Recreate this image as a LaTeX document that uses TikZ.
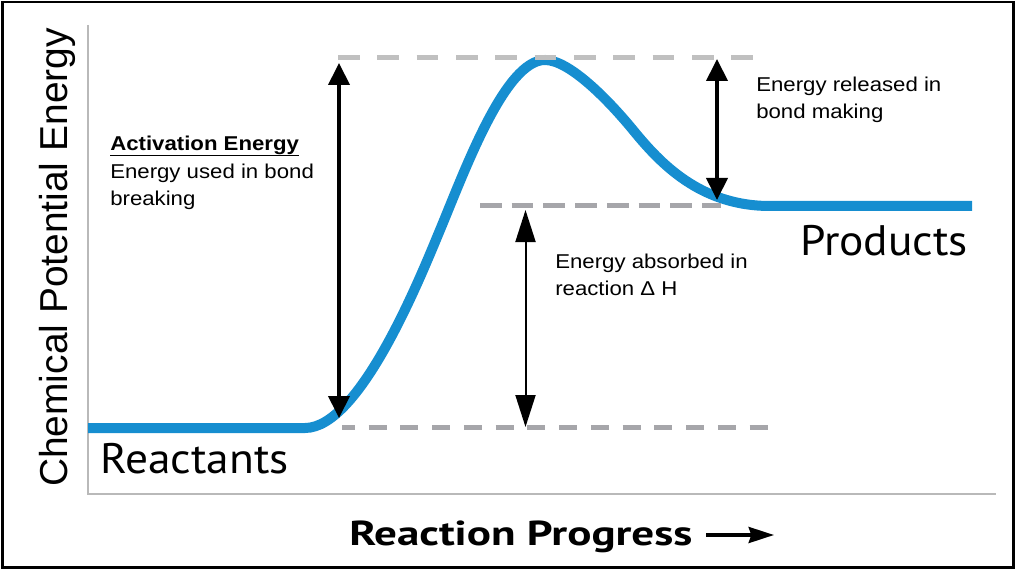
\documentclass[tikz,border=0pt]{standalone}
\usepackage{fontspec}
\usetikzlibrary{arrows.meta}
\newfontfamily\labfont[FakeStretch=1.11]{Liberation Sans}
\newfontfamily\axfont{Liberation Sans}
\newfontfamily\bigfont[FakeStretch=1.065]{PT Sans}
\newfontfamily\progfont[FakeStretch=1.3]{PT Sans}
\definecolor{curveblue}{RGB}{22,142,208}
\definecolor{axisgray}{RGB}{185,185,185}
\definecolor{dashlight}{RGB}{192,192,192}
\definecolor{dashdark}{RGB}{166,166,170}
\begin{document}
\begin{tikzpicture}[x=0.75pt,y=-0.75pt,
  lab/.style={anchor=base west,inner sep=0pt,font=\labfont\fontsize{15pt}{20pt}\selectfont},
  labbold/.style={lab,font=\labfont\bfseries\fontsize{15pt}{20pt}\selectfont},
  big/.style={anchor=base west,inner sep=0pt,font=\bigfont\fontsize{32pt}{38pt}\selectfont},
  level/.style={line width=3.6pt},
  energyarrow/.style={line width=3pt,{Triangle[width=15.75pt,length=16.5pt]}-{Triangle[width=15.75pt,length=16.5pt]}},
  thinarrow/.style={line width=1.5pt,{Triangle[width=15pt,length=24pt]}-{Triangle[width=15pt,length=24pt]}}
]
\useasboundingbox (0,0) rectangle (1016,570);
% frame
\draw[line width=1.9pt] (2.5,2) rectangle (1013.5,567.5);
% axes
\draw[axisgray,line width=1.5pt] (88,25) -- (88,494) -- (996,494);
% axis labels
\node[rotate=90,anchor=base,inner sep=0pt,font=\axfont\fontsize{29.2pt}{35pt}\selectfont] (ylab) at (67,257.5) {Chemical Potential Energy};
\node[anchor=base west,inner sep=0pt,font=\progfont\bfseries\fontsize{26pt}{30pt}\selectfont] (xlab) at (349,545) {Reaction Progress};
\coordinate (xa) at (706,535);
\coordinate (xb) at (774,535);
\draw[line width=2.6pt,-{Stealth[length=19pt,width=12pt,inset=2pt]}] (xa) -- (xb);
% curve
\draw[curveblue,line width=7.5pt]
  (88,428) -- (305,428)
  .. controls (360,428) and (420,278) .. (440,230)
  .. controls (465,170) and (505,60) .. (545,60)
  .. controls (570,60) and (610,102) .. (633,130)
  .. controls (660,163) and (700,206) .. (770,206)
  -- (972,206);
% level coordinates
\coordinate (topL) at (338,57.7);
\coordinate (topR) at (753,57.7);
\coordinate (midL) at (480,205.7);
\coordinate (midR) at (721,205.7);
\coordinate (lowL) at (342,427.7);
\coordinate (lowR) at (772,427.7);
\draw[level,dashlight,dash pattern=on 16.3pt off 13.2pt] (topL) -- (topR);
\draw[level,dashdark,dash pattern=on 16.3pt off 7.5pt] (midL) -- (midR);
\draw[level,dashdark,dash pattern=on 13.5pt off 10.3pt,dash phase=3.75pt] (lowL) -- (lowR);
% arrows
\coordinate (actT) at (339,63);
\coordinate (actB) at (339,418);
\coordinate (relT) at (717,59);
\coordinate (relB) at (717,200);
\coordinate (absT) at (525.5,210);
\coordinate (absB) at (525.5,427);
\draw[energyarrow] (actT) -- (actB);
\draw[energyarrow] (relT) -- (relB);
\draw[thinarrow] (absT) -- (absB);
% labels
\node[labbold] (act1) at (110,150.7) {Activation Energy};
\draw[line width=1.1pt] ([yshift=-3.6pt]act1.base west) -- ([yshift=-3.6pt]act1.base east);
\node[lab] (act2) at (110,178.3) {Energy used in bond};
\node[lab] (act3) at (110,205.5) {breaking};
\node[lab] (rel1) at (756,91.5) {Energy released in};
\node[lab] (rel2) at (756,118.5) {bond making};
\node[lab] (abs1) at (555,268) {Energy absorbed in};
\node[lab] (abs2) at (555,295) {reaction Δ H};
\node[big] (react) at (100,473) {Reactants};
\node[big] (prod) at (800,255) {Products};
\end{tikzpicture}
\end{document}
